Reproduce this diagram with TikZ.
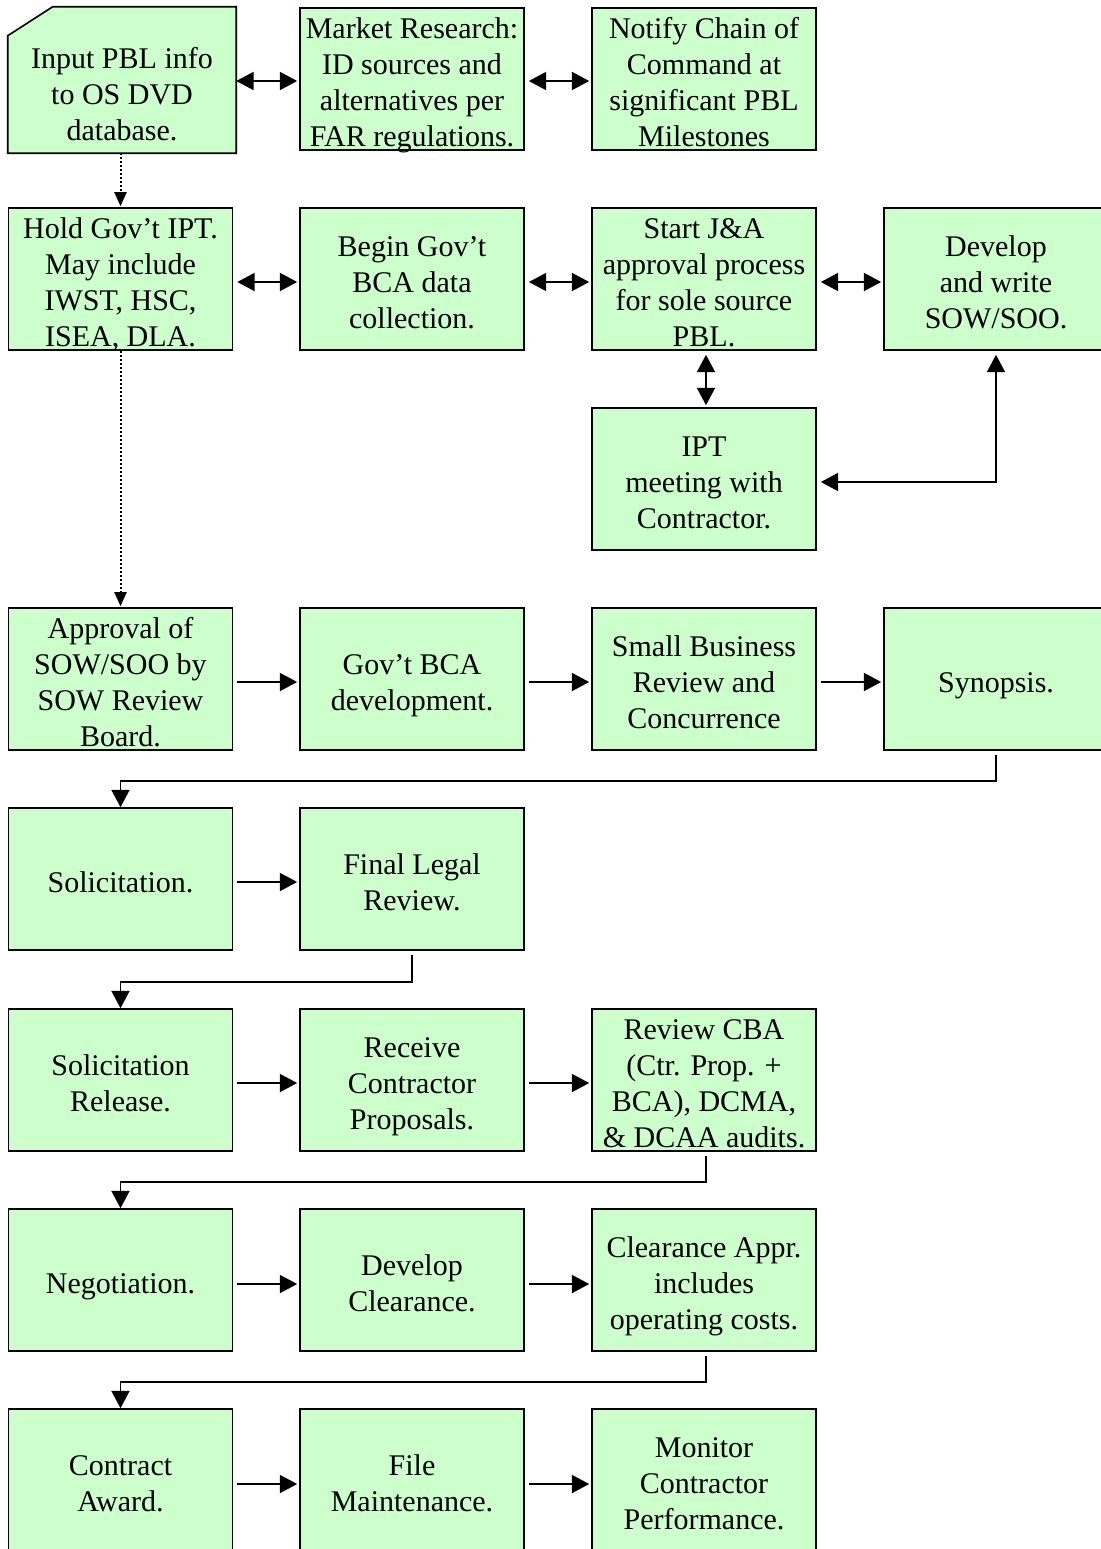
\documentclass[tikz,border=0pt]{standalone}
\usepackage{fontspec}
\setmainfont{Liberation Serif}
\usetikzlibrary{arrows.meta}
\definecolor{boxgreen}{RGB}{204,255,204}
\newcommand{\topstrut}{\rule{0pt}{25pt}}
\newcommand{\botstrut}{\rule[-5pt]{0pt}{5pt}}
\begin{document}
\begin{tikzpicture}[x=0.75pt,y=-0.75pt,
  boxtext/.style={inner sep=0pt,align=center,font=\fontsize{22.5}{27}\selectfont},
  box/.style={boxtext,inner ysep=-6pt,draw=black,fill=boxgreen,line width=1.2pt,minimum width=168pt,minimum height=106.5pt},
  tip/.tip={Triangle[length=13pt,width=13.5pt]},
  arr/.style={-tip,line width=1.3pt},
  biarr/.style={tip-tip,line width=1.3pt},
  hgap/.style={shorten <=3pt,shorten >=1.5pt},
  dotarr/.style={-{Triangle[length=10.5pt,width=9pt]},line width=1.5pt,dash pattern=on 1.5pt off 1.5pt,shorten >=0.75pt},
  ]
\useasboundingbox (0,0) rectangle (1100,1549);

% ---- row 1
\node[inner sep=0pt,minimum width=171pt,minimum height=109.5pt] (n1) at (122,80) {};
\draw[line width=1.2pt,fill=boxgreen] (n1.south west) -- (n1.south east) -- (n1.north east)
  -- ([xshift=33.75pt]n1.north west) -- ([yshift=-21.75pt]n1.north west) -- cycle;
\node[boxtext] (n1t) at (122,91) {\topstrut Input PBL info\\to OS DVD\\database.\botstrut};
\node[box] (n2) at (412,79) {\topstrut Market Research:\\ID sources and\\alternatives per\\FAR regulations.\botstrut};
\node[box] (n3) at (704,79) {\topstrut Notify Chain of\\Command at\\significant PBL\\Milestones\botstrut};

% ---- row 2
\node[box] (n5) at (120.5,279) {\topstrut Hold Gov’t IPT.\\May include\\IWST, HSC,\\ISEA, DLA.\botstrut};
\node[box] (n6) at (412,279) {\topstrut Begin Gov’t\\BCA data\\collection.\botstrut};
\node[box] (n7) at (704,279) {\topstrut Start J\&A\\approval process\\for sole source\\PBL.\botstrut};
\node[box] (n8) at (996,279) {\topstrut Develop\\and write\\SOW/SOO.\botstrut};
\node[box] (ipt) at (704,479) {\topstrut IPT\\meeting with\\Contractor.\botstrut};

% ---- row 3
\node[box] (n9) at (120.5,679) {\topstrut Approval of\\SOW/SOO by\\SOW Review\\Board.\botstrut};
\node[box] (n10) at (412,679) {\topstrut Gov’t BCA\\development.\botstrut};
\node[box] (n11) at (704,679) {\topstrut Small Business\\Review and\\Concurrence\botstrut};
\node[box] (n12) at (996,679) {\topstrut Synopsis.\botstrut};

% ---- row 4
\node[box] (n13) at (120.5,879) {\topstrut Solicitation.\botstrut};
\node[box] (n14) at (412,879) {\topstrut Final Legal\\Review.\botstrut};

% ---- row 5
\node[box] (n15) at (120.5,1080) {\topstrut Solicitation\\Release.\botstrut};
\node[box] (n16) at (412,1080) {\topstrut Receive\\Contractor\\Proposals.\botstrut};
\node[box] (n17) at (704,1080) {\topstrut Review CBA\\(Ctr. Prop. +\\BCA), DCMA,\\\& DCAA audits.\botstrut};

% ---- row 6
\node[box] (n18) at (120.5,1280) {\topstrut Negotiation.\botstrut};
\node[box] (n19) at (412,1280) {\topstrut Develop\\Clearance.\botstrut};
\node[box] (n20) at (704,1280) {\topstrut Clearance Appr.\\includes\\operating costs.\botstrut};

% ---- row 7
\node[box] (n21) at (120.5,1480) {\topstrut Contract\\Award.\botstrut};
\node[box] (n22) at (412,1480) {\topstrut File\\Maintenance.\botstrut};
\node[box] (n23) at (704,1480) {\topstrut Monitor\\Contractor\\Performance.\botstrut};

% ---- helper levels
\coordinate (y1) at (0,81);
\coordinate (y2) at (0,282);
\coordinate (yi) at (0,482);
\coordinate (y3) at (0,682);
\coordinate (y4) at (0,882);
\coordinate (y5) at (0,1083);
\coordinate (y6) at (0,1284);
\coordinate (y7) at (0,1484);
\coordinate (c3) at (706,0);
\coordinate (t1) at (0,781);
\coordinate (t2) at (0,982);
\coordinate (t3) at (0,1182);
\coordinate (t4) at (0,1382);

% ---- connectors row 1
\draw[biarr,shorten >=1.5pt] (n1.east |- y1) -- (n2.west |- y1);
\draw[biarr,hgap] (n2.east |- y1) -- (n3.west |- y1);
\draw[dotarr] (n1.south -| n5.north) -- (n5.north);

% ---- row 2
\draw[biarr,hgap] (n5.east |- y2) -- (n6.west |- y2);
\draw[biarr,hgap] (n6.east |- y2) -- (n7.west |- y2);
\draw[biarr,hgap] (n7.east |- y2) -- (n8.west |- y2);
\draw[biarr,hgap] (n7.south -| c3) -- (ipt.north -| c3);
\draw[biarr,shorten <=3pt,shorten >=3pt] (ipt.east |- yi) -- (n8.south |- yi) -- (n8.south);
\draw[dotarr] (n5.south) -- (n9.north);

% ---- row 3
\draw[arr,hgap] (n9.east |- y3) -- (n10.west |- y3);
\draw[arr,hgap] (n10.east |- y3) -- (n11.west |- y3);
\draw[arr,hgap] (n11.east |- y3) -- (n12.west |- y3);
\draw[arr,shorten <=3.5pt] (n12.south) -- (n12.south |- t1) -- (n13.north |- t1) -- (n13.north);

% ---- row 4
\draw[arr,hgap] (n13.east |- y4) -- (n14.west |- y4);
\draw[arr,shorten <=3.5pt] (n14.south) -- (n14.south |- t2) -- (n15.north |- t2) -- (n15.north);

% ---- row 5
\draw[arr,hgap] (n15.east |- y5) -- (n16.west |- y5);
\draw[arr,hgap] (n16.east |- y5) -- (n17.west |- y5);
\draw[arr,shorten <=3.5pt] (n17.south -| c3) -- (c3 |- t3) -- (n18.north |- t3) -- (n18.north);

% ---- row 6
\draw[arr,hgap] (n18.east |- y6) -- (n19.west |- y6);
\draw[arr,hgap] (n19.east |- y6) -- (n20.west |- y6);
\draw[arr,shorten <=3.5pt] (n20.south -| c3) -- (c3 |- t4) -- (n21.north |- t4) -- (n21.north);

% ---- row 7
\draw[arr,hgap] (n21.east |- y7) -- (n22.west |- y7);
\draw[arr,hgap] (n22.east |- y7) -- (n23.west |- y7);
\end{tikzpicture}
\end{document}
